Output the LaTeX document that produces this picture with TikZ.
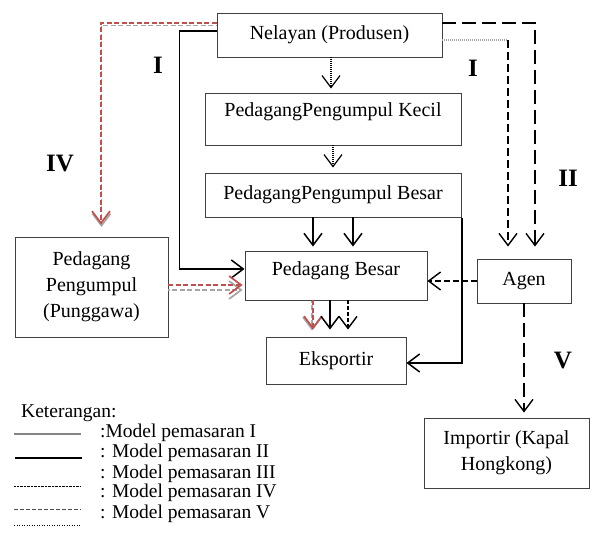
\documentclass[tikz,border=0pt]{standalone}
\usepackage{fontspec}
\setmainfont{Liberation Serif}
\usetikzlibrary{arrows.meta}
\definecolor{merah}{RGB}{192,80,77}
\definecolor{abu}{RGB}{165,165,165}
\tikzset{>={Straight Barb[length=12pt,width=18pt]}}
\tikzset{box/.style={draw=black!75, line width=0.9pt, inner sep=0pt, align=center, font=\fontsize{20}{26}\selectfont}}
\tikzset{lbl/.style={font=\fontsize{25}{30}\selectfont\bfseries}}
\tikzset{ket/.style={anchor=west, inner sep=0pt, font=\fontsize{19.5}{24}\selectfont}}
\tikzset{arr/.style={->, line width=1.5pt}}
\tikzset{dotarr/.style={->, line width=1.2pt, dash pattern=on 1pt off 1pt}}
\tikzset{dasharr/.style={->, line width=1.4pt, dash pattern=on 6pt off 3pt}}
\tikzset{longdash/.style={->, line width=1.4pt, dash pattern=on 14pt off 6pt}}
\tikzset{redarr/.style={->, merah, line width=1.7pt, dash pattern=on 5pt off 2.5pt}}
\tikzset{shadowarr/.style={->, abu, line width=1.7pt, dash pattern=on 5pt off 2.5pt, dash phase=3.5pt}}

\begin{document}
\begin{tikzpicture}[x=1pt, y=-1pt]
\useasboundingbox (0,0) rectangle (592,533);
% Boxes
\node[box, minimum width=225pt, minimum height=44pt] (nelayan) at (329.5,35) {Nelayan (Produsen)};
\node[box, minimum width=256pt, minimum height=52pt, text height=13.2pt, text depth=18pt] (kecil) at (333,119) {PedagangPengumpul Kecil};
\node[box, minimum width=256pt, minimum height=44pt] (besar) at (333,195) {PedagangPengumpul Besar};
\node[box, minimum width=182pt, minimum height=49pt, text height=13.2pt, text depth=13pt] (pbesar) at (336,275.5) {Pedagang Besar};
\node[box, minimum width=140pt, minimum height=47pt] (ekspor) at (336,360.5) {Eksportir};
\node[box, minimum width=153pt, minimum height=100pt] (punggawa) at (91.5,287) {Pedagang\\Pengumpul\\(Punggawa)};
\node[box, minimum width=94pt, minimum height=44pt] (agen) at (524,281) {Agen};
\node[box, minimum width=165pt, minimum height=70pt] (importir) at (506.5,453) {Importir (Kapal\\Hongkong)};
% Model I: Nelayan straight to Pedagang Besar
\draw[arr] ([yshift=4pt]nelayan.west) -- ++(-37,0) |- ([yshift=6.5pt]pbesar.west);
% Model IV: via Punggawa (red, with grey shadow)
\draw[shadowarr, transform canvas={shift={(0.5pt,-2.5pt)}}, shorten >=12pt] ([yshift=12pt]nelayan.west) -| ([xshift=9.5pt]punggawa.north);
\draw[redarr, shorten >=12pt] ([yshift=12pt]nelayan.west) -| ([xshift=9.5pt]punggawa.north);
\draw[shadowarr, shorten >=2pt] ([yshift=-3pt]punggawa.east) -- ([yshift=-3pt]punggawa.east -| pbesar.west);
\draw[redarr, shorten >=2pt] ([yshift=2pt]punggawa.east) -- ([yshift=2pt]punggawa.east -| pbesar.west);
% Model III: down the collectors
\draw[dotarr, shorten >=4pt] ([xshift=1.5pt]nelayan.south) -- ([xshift=1.5pt]nelayan.south |- kecil.north);
\draw[dotarr, shorten >=5pt] (kecil.south) -- (besar.north);
\draw[arr, shorten >=4pt] ([xshift=-20pt]besar.south) -- ([xshift=-20pt]besar.south |- pbesar.north);
\draw[arr, shorten >=4pt] ([xshift=20pt]besar.south) -- ([xshift=20pt]besar.south |- pbesar.north);
% Pedagang Besar to Eksportir
\draw[shadowarr, transform canvas={shift={(-1pt,-1pt)}}, shorten >=7pt] ([xshift=-23pt]pbesar.south) -- ([xshift=-23pt]pbesar.south |- ekspor.north);
\draw[redarr, shorten >=7pt] ([xshift=-23pt]pbesar.south) -- ([xshift=-23pt]pbesar.south |- ekspor.north);
\draw[arr, shorten >=7pt] ([xshift=-6pt]pbesar.south) -- ([xshift=-6pt]pbesar.south |- ekspor.north);
\draw[dasharr, dash pattern=on 4pt off 2pt, shorten >=7pt] ([xshift=12pt]pbesar.south) -- ([xshift=12pt]pbesar.south |- ekspor.north);
% Model II: side line into Eksportir
\coordinate (iitop) at (462,218);
\draw[arr] (iitop) |- ([yshift=-2.5pt]ekspor.east);
% Nelayan to Agen
\draw[longdash, shorten >=12pt] ([yshift=12pt]nelayan.east) -| ([xshift=11pt]agen.north);
\draw[abu, line width=1.2pt, dash pattern=on 1pt off 1pt] ([yshift=-5pt]nelayan.east) -- ([yshift=-5pt]nelayan.east -| 508,0) coordinate (kiri);
\draw[dasharr, dash pattern=on 8pt off 4pt, shorten >=12pt] (kiri) -- (kiri |- agen.north);
% Agen onwards
\draw[dasharr] (agen.west) -- (agen.west -| pbesar.east);
\draw[longdash, shorten >=5pt] (agen.south) -- (agen.south |- importir.north);
% Model labels
\node[lbl] (l1) at (158,65) {I};
\node[lbl] (l1b) at (473,68) {I};
\node[lbl] (l4) at (60,164) {IV};
\node[lbl] (l2) at (568,178) {II};
\node[lbl] (l5) at (563,360) {V};
% Keterangan
\node[ket] (keter) at (21,413) {Keterangan:};
\node[ket] (k1) at (100,433) {:Model pemasaran I};
\node[ket] (k2) at (100,453) {: Model pemasaran II};
\node[ket] (k3) at (100,474) {: Model pemasaran III};
\node[ket] (k4) at (100,493) {: Model pemasaran IV};
\node[ket] (k5) at (100,514) {: Model pemasaran V};
\draw[abu!80!black, line width=1.6pt] (14,434) -- (81,434);
\draw[line width=1.4pt] (15,458) -- (82,458);
\draw[line width=0.8pt, dash pattern=on 0.8pt off 0.6pt] (14,486) -- (81,486);
\draw[black!70, line width=1pt, dash pattern=on 4pt off 2pt] (14,509) -- (81,509);
\draw[line width=0.9pt, dash pattern=on 1pt off 1.5pt] (14,525) -- (81,525);
\end{tikzpicture}
\end{document}
